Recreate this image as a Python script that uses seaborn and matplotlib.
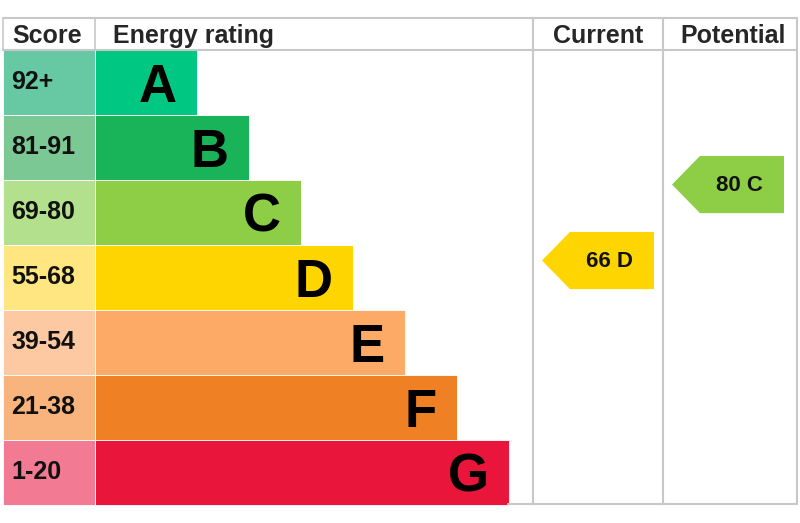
import matplotlib
matplotlib.use("Agg")
import matplotlib.pyplot as plt
import seaborn as sns
import pandas as pd
from matplotlib.patches import Polygon

# EPC bands
bands = ["A", "B", "C", "D", "E", "F", "G"]
score_ranges = ["92+", "81-91", "69-80", "55-68", "39-54", "21-38", "1-20"]
band_min = [92, 81, 69, 55, 39, 21, 1]
current_score = 66
potential_score = 80

band_colors = ["#00c781", "#19b459", "#8dce46", "#ffd500", "#fcaa65", "#ef8023", "#e9153b"]
score_colors = ["#66c9a3", "#7cc894", "#b3e08c", "#ffe680", "#fcc9a2", "#f8b47c", "#f27a93"]

sns.set_style("white")
plt.rcParams["font.family"] = ["Liberation Sans", "DejaVu Sans"]

# bar lengths grow one step per band (layout)
df = pd.DataFrame({
    "band": bands,
    "range": score_ranges,
    "length": [50 + 52 * (i + 1) for i in range(len(bands))],
    "cell": [-92] * len(bands),
})

fig = plt.figure(figsize=(8, 5.23), dpi=100)
ax = fig.add_axes([0, 0, 1, 1])

sns.barplot(data=df, y="band", x="length", hue="band", palette=band_colors,
            width=1.0, legend=False, errorbar=None, ax=ax,
            edgecolor="white", linewidth=0.6, saturation=1)
sns.barplot(data=df, y="band", x="cell", hue="band", palette=score_colors,
            width=1.0, legend=False, errorbar=None, ax=ax,
            edgecolor="white", linewidth=0.6, saturation=1)

ax.set_xlim(-95, 705)
ax.set_ylim(6.777, -1.269)
ax.axis("off")

for i, row in df.iterrows():
    ax.text(row["length"] - 20, i + 0.08, row["band"], ha="right", va="center",
            fontsize=38, fontweight="bold", color="black")
    ax.text(-84, i, row["range"], ha="left", va="center",
            fontsize=18, fontweight="bold", color="#111111")

# grid / table lines
grid = "#c8c8c8"
head_top, head_bot, bottom = -0.992, -0.5, 6.49
col_cur, col_pot, col_end = 438, 568, 702
ax.plot([-92, col_end], [head_top, head_top], color=grid, lw=1.5)
ax.plot([-92, col_end], [head_bot, head_bot], color=grid, lw=1.5)
ax.plot([413, col_end], [bottom, bottom], color=grid, lw=1.5)
ax.plot([-92, -92], [head_top, head_bot], color=grid, lw=1.2)
ax.plot([0, 0], [head_top, head_bot], color=grid, lw=1.2)
for cx in (col_cur, col_pot, col_end):
    ax.plot([cx, cx], [head_top, bottom], color=grid, lw=1.5)

hy = (head_top + head_bot) / 2 + 0.03
ax.text(-83, hy, "Score", ha="left", va="center", fontsize=18, fontweight="bold")
ax.text(18, hy, "Energy rating", ha="left", va="center", fontsize=18, fontweight="bold")
ax.text((col_cur + col_pot) / 2, hy, "Current", ha="center", va="center", fontsize=18, fontweight="bold")
ax.text((col_pot + col_end) / 2 + 3, hy, "Potential", ha="center", va="center", fontsize=18, fontweight="bold")


def band_of(score):
    for b, lo in zip(bands, band_min):
        if score >= lo:
            return bands.index(b)
    return len(bands) - 1


def score_to_y(score):
    return 8.25 - 0.0835 * score


def arrow(col_left, score):
    k = band_of(score)
    yc = score_to_y(score)
    h = 0.44
    tip, body, right = col_left + 9, col_left + 37, col_left + 121
    pts = [(tip, yc), (body, yc - h), (right, yc - h), (right, yc + h), (body, yc + h)]
    ax.add_patch(Polygon(pts, closed=True, facecolor=band_colors[k], edgecolor="none"))
    ax.text((body + right) / 2 - 3, yc + 0.02, f"{score} {bands[k]}", ha="center", va="center",
            fontsize=16, fontweight="bold", color="#111111")


arrow(col_cur, current_score)
arrow(col_pot, potential_score)

plt.savefig("out.png", dpi=100)
